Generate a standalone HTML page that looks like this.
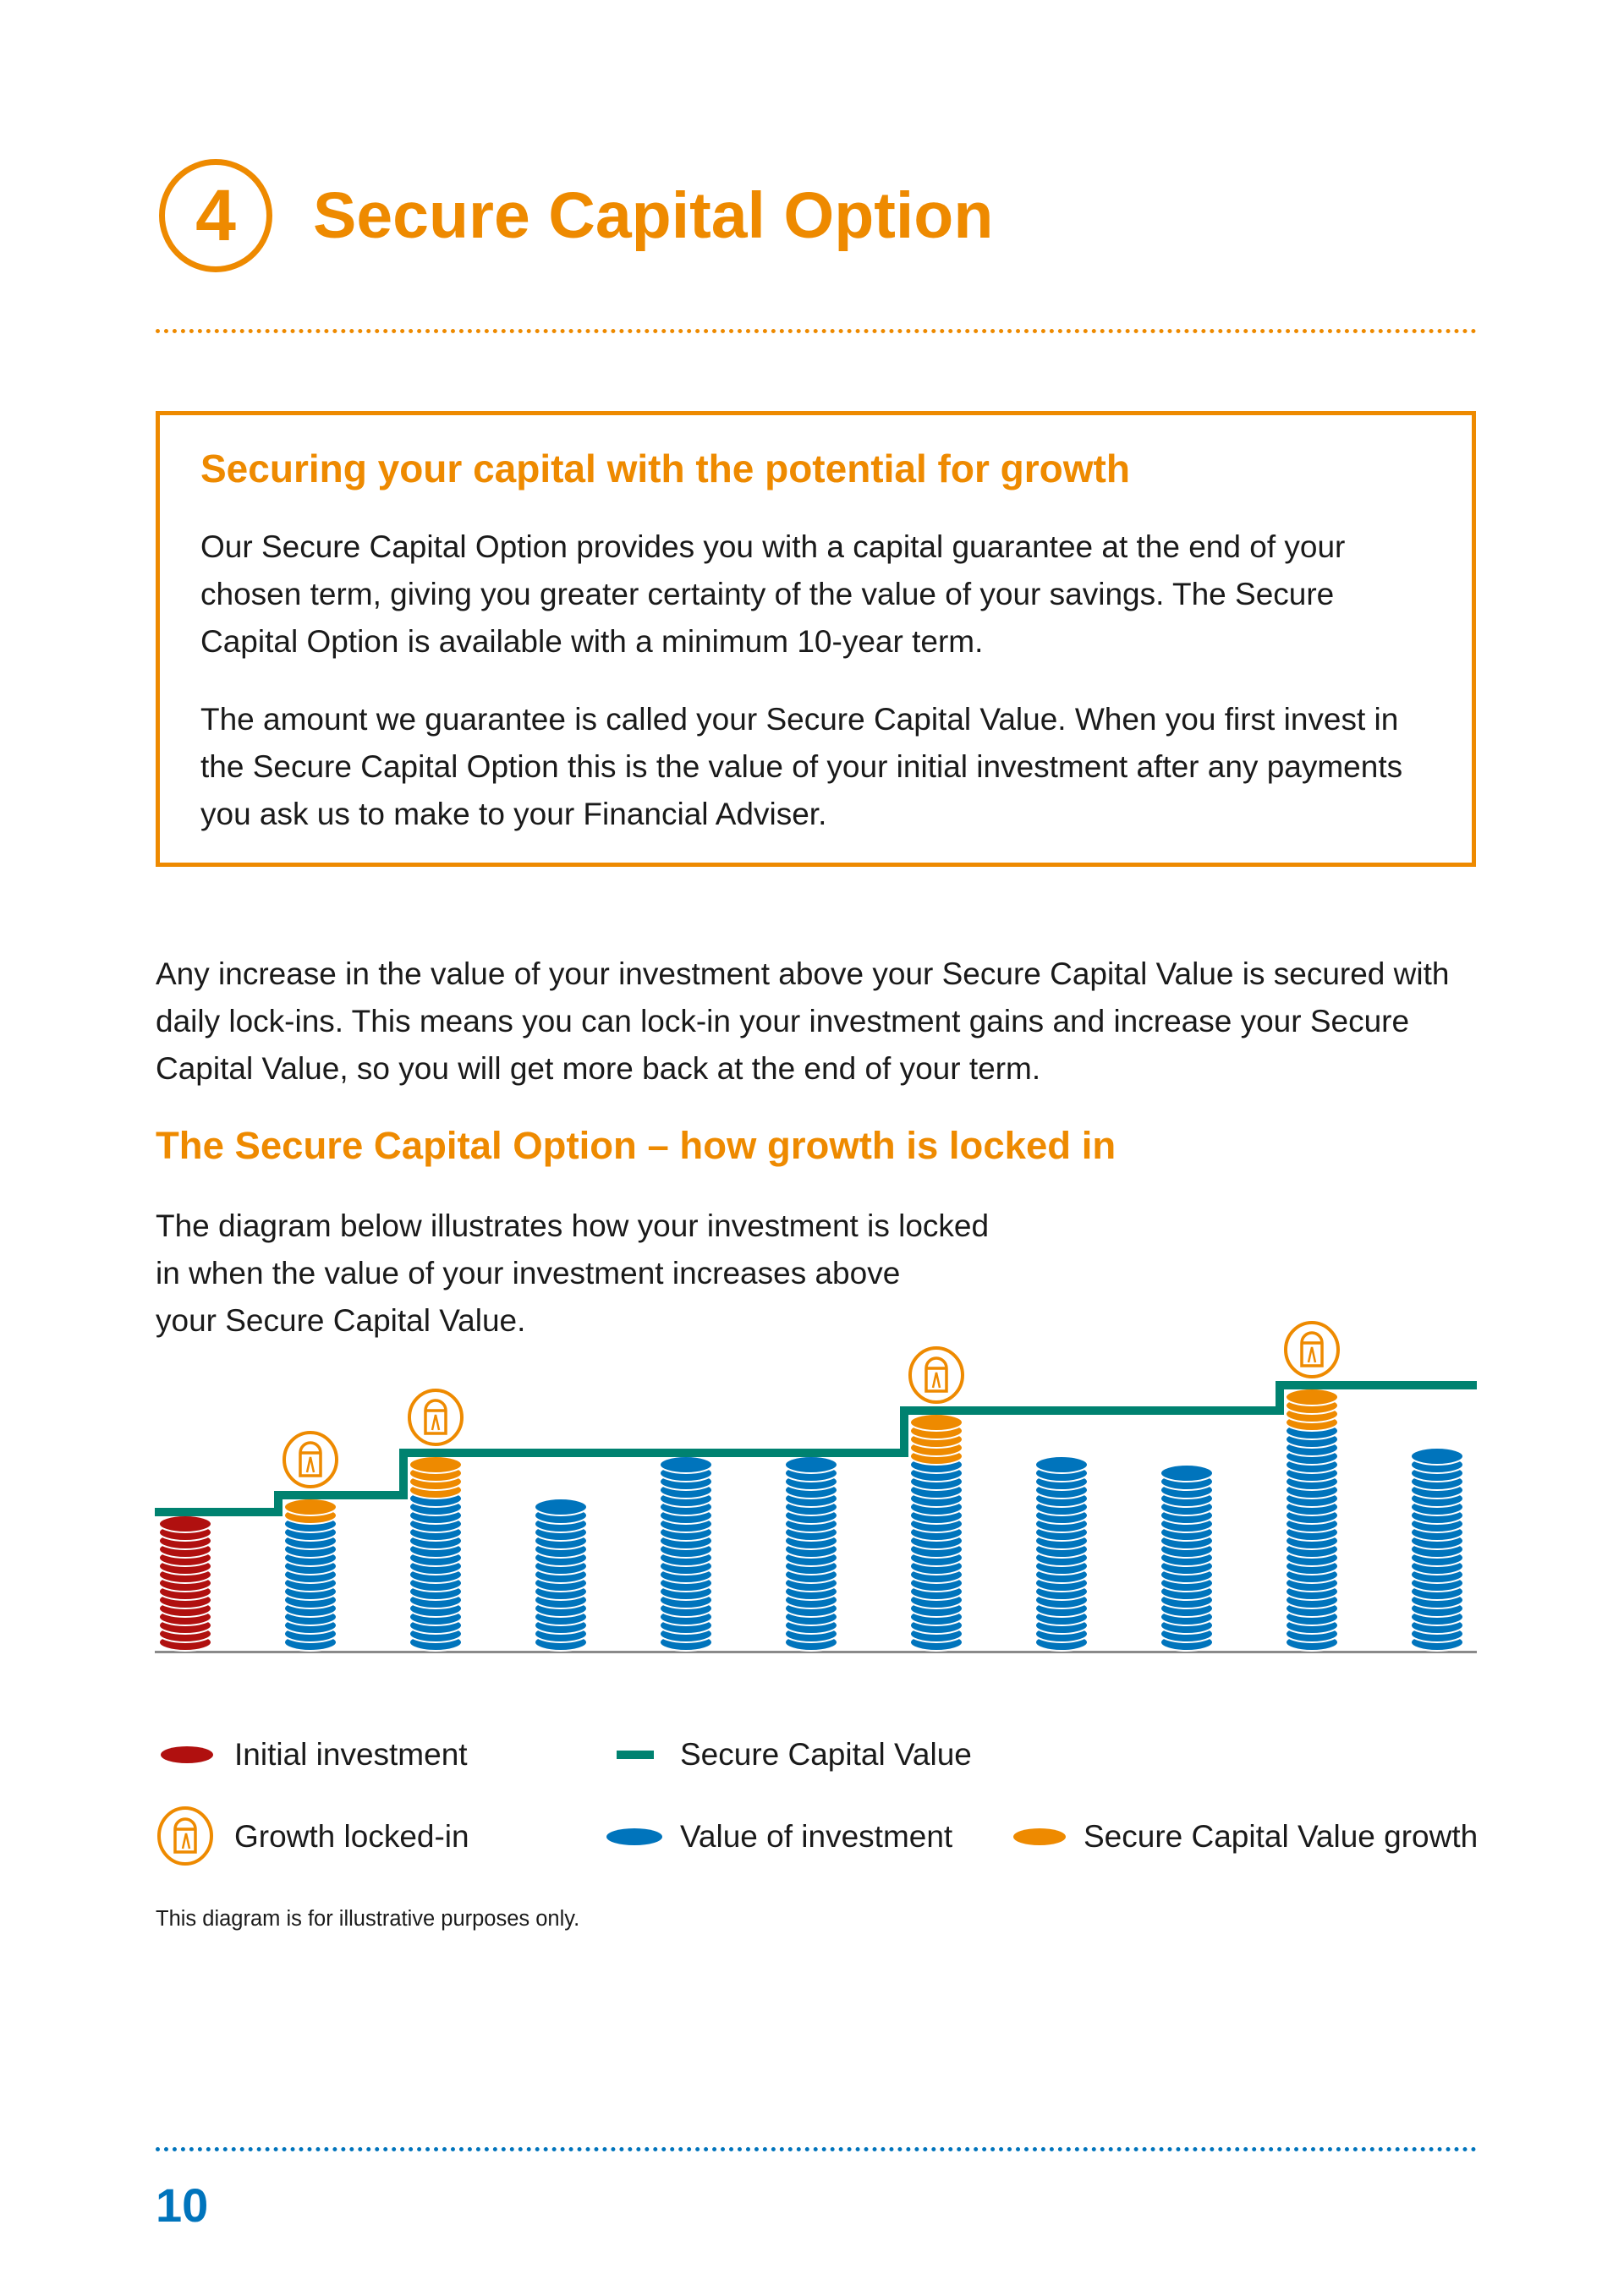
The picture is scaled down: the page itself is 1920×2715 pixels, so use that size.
<!DOCTYPE html>
<html><head><meta charset="utf-8">
<style>
html,body{margin:0;padding:0;background:#fff;}
body{width:1920px;height:2715px;position:relative;overflow:hidden;font-family:"Liberation Sans",sans-serif;color:#1a1a1a;}
.abs{position:absolute;white-space:nowrap;}
.body{font-size:37px;letter-spacing:0;line-height:56px;}
.orange{color:#EE8A00;font-weight:bold;}
.dots{position:absolute;height:0;border-top:5px dotted;}
</style></head>
<body>
<div class="abs" style="left:188px;top:188px;width:120px;height:120px;border:7px solid #EE8A00;border-radius:50%;text-align:center;line-height:120px;font-size:86px;font-weight:bold;color:#EE8A00;">4</div>
<div class="abs orange" style="left:370px;top:210px;font-size:77px;line-height:90px;">Secure Capital Option</div>
<div class="dots" style="left:184px;top:389px;width:1562px;border-color:#EE8A00;"></div>

<div class="abs" style="left:184px;top:486px;width:1551px;height:529px;border:5px solid #EE8A00;"></div>
<div class="abs orange" style="left:237px;top:526px;font-size:46px;line-height:56px;">Securing your capital with the potential for growth</div>
<div class="abs body" style="left:237px;top:619px;">Our Secure Capital Option provides you with a capital guarantee at the end of your<br>chosen term, giving you greater certainty of the value of your savings. The Secure<br>Capital Option is available with a minimum 10-year term.</div>
<div class="abs body" style="left:237px;top:823px;">The amount we guarantee is called your Secure Capital Value. When you first invest in<br>the Secure Capital Option this is the value of your initial investment after any payments<br>you ask us to make to your Financial Adviser.</div>

<div class="abs body" style="left:184px;top:1124px;">Any increase in the value of your investment above your Secure Capital Value is secured with<br>daily lock-ins. This means you can lock-in your investment gains and increase your Secure<br>Capital Value, so you will get more back at the end of your term.</div>
<div class="abs orange" style="left:184px;top:1327px;font-size:45.5px;line-height:56px;">The Secure Capital Option – how growth is locked in</div>
<div class="abs body" style="left:184px;top:1422px;">The diagram below illustrates how your investment is locked<br>in when the value of your investment increases above<br>your Secure Capital Value.</div>

<svg class="abs" style="left:0;top:0;" width="1920" height="2715" id="chart"></svg>

<!-- Legend -->
<svg class="abs" style="left:0;top:0;" width="1920" height="2715">
<ellipse cx="221" cy="2075" rx="31" ry="10" fill="#B0100F"/>
<rect x="729" y="2070" width="44" height="10" fill="#008270"/>
<g>
<ellipse cx="219" cy="2171" rx="31" ry="33" fill="none" stroke="#EE8A00" stroke-width="4"/>
<path d="M207 2190 V2163 A12 12 0 0 1 231 2163 V2190 Z M207 2163 H231" fill="none" stroke="#EE8A00" stroke-width="3.5"/>
<path d="M216 2186 L220 2168 L224 2186" fill="none" stroke="#EE8A00" stroke-width="2.5"/>
</g>
<ellipse cx="750" cy="2172" rx="33" ry="10" fill="#0074BC"/>
<ellipse cx="1229" cy="2172" rx="31" ry="10" fill="#EE8A00"/>
</svg>
<div class="abs body" style="left:277px;top:2047px;">Initial investment</div>
<div class="abs body" style="left:804px;top:2047px;">Secure Capital Value</div>
<div class="abs body" style="left:277px;top:2144px;">Growth locked-in</div>
<div class="abs body" style="left:804px;top:2144px;">Value of investment</div>
<div class="abs body" style="left:1281px;top:2144px;">Secure Capital Value growth</div>
<div class="abs" style="left:184px;top:2255px;font-size:25.5px;">This diagram is for illustrative purposes only.</div>

<div class="dots" style="left:184px;top:2539px;width:1562px;border-color:#0074BC;"></div>
<div class="abs" style="left:184px;top:2575px;font-size:56px;font-weight:bold;color:#0074BC;line-height:66px;">10</div>

<script>
const columns = [1,2,3,4,5,6,7,8,9,10,11];
const totalCoins = [15,17,22,17,22,22,27,22,21,30,23];
const growthCoins = [0,2,4,0,0,0,5,0,0,4,0];
const secureLevel = [15,17,22,22,22,22,27,27,27,30,30];
const initialColumn = [true,false,false,false,false,false,false,false,false,false,false];
const lockedIn = [false,true,true,false,false,false,true,false,false,true,false];

const NS='http://www.w3.org/2000/svg';
const svg=document.getElementById('chart');
const x0=219, colStep=148, base=1942, pitch=10;
function xPos(i){return x0+i*colStep;}
function coinY(k){return base-k*pitch;}
function topY(n){return base-10-(n-1)*pitch;}
function lineY(n){return topY(n)-4;}
function mk(tag,attrs){const e=document.createElementNS(NS,tag);for(const k in attrs)e.setAttribute(k,attrs[k]);svg.appendChild(e);return e;}

const ax=mk('rect',{x:183,y:1952,width:1563,height:3,fill:'#8a8a8a'});



columns.forEach((c,i)=>{
  const n=totalCoins[i], g=growthCoins[i];
  for(let k=0;k<n;k++){
    let fill='#0074BC';
    if(initialColumn[i]) fill='#B0100F';
    else if(k>=n-g) fill='#EE8A00';
    const e=mk('ellipse',{cx:xPos(i),cy:coinY(k),rx:31,ry:10,fill:fill,stroke:'#fff','stroke-width':2});
    
    
  }
});

let d='M183 '+lineY(secureLevel[0]);
for(let i=1;i<columns.length;i++){
  if(secureLevel[i]!==secureLevel[i-1]){
    const sx=xPos(i)-38;
    d+=' H'+sx+' V'+lineY(secureLevel[i]);
  }
}
d+=' H1746';
const line=mk('path',{d:d,fill:'none',stroke:'#008270','stroke-width':10});



columns.forEach((c,i)=>{
  if(!lockedIn[i]) return;
  const cx=xPos(i), cy=lineY(secureLevel[i])-42;
  const g=document.createElementNS(NS,'g');
  
  
  svg.appendChild(g);
  const parts=[
    ['ellipse',{cx:cx,cy:cy,rx:31,ry:32,fill:'none',stroke:'#EE8A00','stroke-width':4}],
    ['path',{d:'M'+(cx-12)+' '+(cy+19)+' V'+(cy-8)+' A12 12 0 0 1 '+(cx+12)+' '+(cy-8)+' V'+(cy+19)+' Z M'+(cx-12)+' '+(cy-8)+' H'+(cx+12),fill:'none',stroke:'#EE8A00','stroke-width':3.5}],
    ['path',{d:'M'+(cx-4)+' '+(cy+15)+' L'+cx+' '+(cy-3)+' L'+(cx+4)+' '+(cy+15),fill:'none',stroke:'#EE8A00','stroke-width':2.5}]
  ];
  parts.forEach(p=>{const e=document.createElementNS(NS,p[0]);for(const k in p[1])e.setAttribute(k,p[1][k]);g.appendChild(e);});
});
</script>
</body></html>
